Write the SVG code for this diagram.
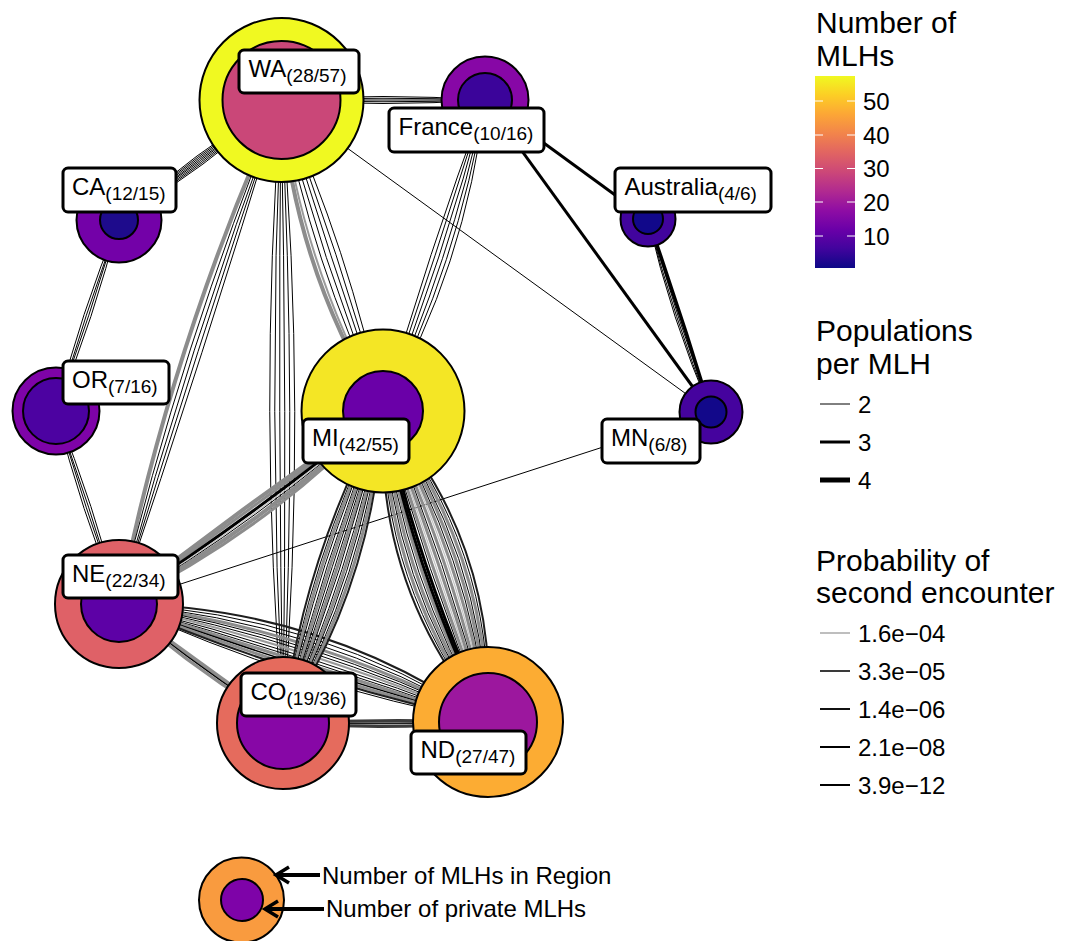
<svg xmlns="http://www.w3.org/2000/svg" width="1076" height="941" viewBox="0 0 1076 941">
<defs>
<linearGradient id="plasma" x1="0" y1="1" x2="0" y2="0">
<stop offset="0" stop-color="#0D0887"/><stop offset="0.1" stop-color="#41049D"/><stop offset="0.2" stop-color="#6A00A8"/><stop offset="0.3" stop-color="#8F0DA4"/><stop offset="0.4" stop-color="#B12A90"/><stop offset="0.5" stop-color="#CC4778"/><stop offset="0.6" stop-color="#E16462"/><stop offset="0.7" stop-color="#F2844B"/><stop offset="0.8" stop-color="#FCA636"/><stop offset="0.9" stop-color="#FCCE25"/><stop offset="1" stop-color="#F0F921"/>
</linearGradient>
<marker id="chev" markerWidth="18" markerHeight="22" refX="14" refY="10" orient="auto" markerUnits="userSpaceOnUse"><path d="M1,2 L14,10 L1,18" fill="none" stroke="#000" stroke-width="3.5"/></marker>
</defs>
<style>
text{font-family:"Liberation Sans",Arial,Helvetica,sans-serif;fill:#000}
.t{font-size:24px}
.sub{font-size:19px}
.ttl{font-size:30px}
.lab rect{fill:#fff;stroke:#000;stroke-width:3}
.o,.i{stroke:#000;stroke-width:2}
#edges path{fill:none}
.b1{stroke:#000;stroke-width:1}
.b15{stroke:#000;stroke-width:1.5}
.b2{stroke:#1e1e1e;stroke-width:2}
.b3{stroke:#000;stroke-width:3}
.g4{stroke:#8c8c8c;stroke-width:4}
.g3{stroke:#8c8c8c;stroke-width:3}
.g2{stroke:#9a9a9a;stroke-width:2}
.l1{stroke:#c4c4c4;stroke-width:1.2}
.d3{stroke:#3c3c3c;stroke-width:3}
.tick{stroke:#fff;stroke-width:1}
</style>
<rect width="1076" height="941" fill="#fff"/>
<g id="edges">
<!-- WA-France -->
<path class="b1" d="M281,100Q383,93 485,100"/><path class="b1" d="M281,100Q383,96.5 485,100"/><path class="b1" d="M281,100Q383,100 485,100"/><path class="b1" d="M281,100Q383,103.5 485,100"/><path class="b1" d="M281,100Q383,107 485,100"/>
<!-- WA-CA -->
<path class="b1" d="M281,100Q206,168 119,220"/><path class="b1" d="M281,100Q204.3,165.7 119,220"/><path class="b1" d="M281,100Q202.6,163.4 119,220"/><path class="b1" d="M281,100Q200.9,161.1 119,220"/><path class="b1" d="M281,100Q199.2,158.9 119,220"/><path class="b1" d="M281,100Q197.5,156.6 119,220"/><path class="b1" d="M281,100Q195.8,154.3 119,220"/><path class="b1" d="M281,100Q194,152 119,220"/>
<!-- WA-MN -->
<path class="b1" d="M281,100L711,412"/>
<!-- WA-NE -->
<path class="g4" d="M281,100Q171.4,342.8 119,604"/><path class="b1" d="M281,100Q181,345.9 119,604"/><path class="b1" d="M281,100Q188.6,348.3 119,604"/><path class="b1" d="M281,100Q196.2,350.8 119,604"/><path class="b1" d="M281,100Q203.8,353.2 119,604"/>
<!-- WA-CO -->
<path class="b1" d="M281,100Q307.5,411.5 283,723"/><path class="b1" d="M281,100Q297.5,411.5 283,723"/><path class="b1" d="M281,100Q287.5,411.5 283,723"/><path class="b1" d="M281,100Q277.5,411.5 283,723"/><path class="b1" d="M281,100Q267.5,411.5 283,723"/><path class="b1" d="M281,100Q257.5,411.5 283,723"/>
<!-- WA-MI -->
<path class="g4" d="M281,100Q294,268 383,411"/><path class="g2" d="M281,100Q301.6,265.5 383,411"/><path class="b1" d="M281,100Q311.1,262.4 383,411"/><path class="b1" d="M281,100Q320.6,259.2 383,411"/><path class="b1" d="M281,100Q330.1,256.1 383,411"/><path class="b1" d="M281,100Q339.6,253 383,411"/><path class="b1" d="M281,100Q349.1,249.9 383,411"/>
<!-- France-MI -->
<path class="b1" d="M485,100Q428.3,253.6 383,411"/><path class="b1" d="M485,100Q435.9,256.1 383,411"/><path class="b1" d="M485,100Q443.5,258.6 383,411"/><path class="b1" d="M485,100Q451.1,261.1 383,411"/><path class="b1" d="M485,100Q458.7,263.6 383,411"/><path class="b1" d="M485,100Q466.3,266.1 383,411"/>
<!-- France-Australia, France-MN -->
<path class="b3" d="M485,100L648,219"/>
<path class="b3" d="M485,100L711,412"/>
<!-- Australia-MN -->
<path class="b3" style="stroke-width:3.5" d="M648,219Q681.4,314.9 711,412"/><path class="b1" d="M648,219Q676.7,316.4 711,412"/><path class="b1" d="M648,219Q673.8,317.4 711,412"/><path class="b1" d="M648,219Q670.9,318.3 711,412"/>
<!-- CA-OR -->
<path class="b1" d="M119,220Q94.2,317.7 56,411"/><path class="b1" d="M119,220Q89.7,316.2 56,411"/><path class="b1" d="M119,220Q85.3,314.8 56,411"/><path class="b1" d="M119,220Q80.8,313.3 56,411"/>
<!-- OR-NE -->
<path class="b1" d="M56,411Q94.2,505.3 119,604"/><path class="b1" d="M56,411Q89.7,506.8 119,604"/><path class="b1" d="M56,411Q85.3,508.2 119,604"/><path class="b1" d="M56,411Q80.8,509.7 119,604"/>
<!-- NE-MN -->
<path class="b1" d="M119,604L711,412"/>
<!-- NE-MI -->
<path class="g4" d="M119,604Q247.5,502.7 383,411"/><path class="g3" d="M119,604Q251.6,508.3 383,411"/><path class="b3" d="M119,604Q255.7,514 383,411"/><path class="l1" d="M119,604Q258.7,518 383,411"/><path class="b1" d="M119,604Q260.4,520.4 383,411"/><path class="g4" d="M119,604Q264,525.3 383,411"/><path class="g3" d="M119,604Q268.1,530.9 383,411"/>
<!-- NE-CO -->
<path class="g4" d="M119,604Q201.5,663.5 283,723"/><path class="b15" d="M119,604Q198.6,667.6 283,723"/><path class="g3" d="M119,604Q195.7,671.6 283,723"/>
<!-- NE-ND -->
<path class="b2" d="M119,604Q322.7,605.8 488,722"/><path class="b1" d="M119,604Q320.3,613.4 488,722"/><path class="b1" d="M119,604Q317.8,621.1 488,722"/><path class="g3" d="M119,604Q315.4,628.7 488,722"/><path class="b1" d="M119,604Q313.6,634.4 488,722"/><path class="b1" d="M119,604Q311.8,640.1 488,722"/><path class="g2" d="M119,604Q310,645.9 488,722"/><path class="b1" d="M119,604Q308.1,651.6 488,722"/><path class="b1" d="M119,604Q306.3,657.3 488,722"/><path class="g3" d="M119,604Q304.5,663 488,722"/><path class="b15" d="M119,604Q302.7,668.7 488,722"/><path class="g3" d="M119,604Q300.9,674.4 488,722"/><path class="b2" d="M119,604Q299,680.2 488,722"/><path class="b1" d="M119,604Q297.2,685.9 488,722"/>
<!-- CO-ND -->
<path class="d3" d="M283,723Q385.5,718.5 488,722"/><path class="b2" d="M283,723Q385.5,724.5 488,722"/><path class="d3" d="M283,723Q385.5,730.5 488,722"/>
<!-- MI-CO -->
<path class="b2" d="M383,411Q303,557.3 283,723"/><path class="b1" d="M383,411Q307.8,558.9 283,723"/><path class="g3" d="M383,411Q312.5,560.4 283,723"/><path class="b1" d="M383,411Q317.3,561.9 283,723"/><path class="b1" d="M383,411Q322.1,563.4 283,723"/><path class="g3" d="M383,411Q326.8,564.9 283,723"/><path class="b1" d="M383,411Q331.6,566.4 283,723"/><path class="b1" d="M383,411Q336.4,567.9 283,723"/><path class="g3" d="M383,411Q341.1,569.4 283,723"/><path class="b1" d="M383,411Q345.9,570.9 283,723"/><path class="b1" d="M383,411Q350.7,572.4 283,723"/><path class="g3" d="M383,411Q355.4,574 283,723"/><path class="b1" d="M383,411Q360.2,575.5 283,723"/><path class="b1" d="M383,411Q365,577 283,723"/><path class="g3" d="M383,411Q369.7,578.5 283,723"/><path class="b2" d="M383,411Q375.4,580.3 283,723"/>
<!-- MI-ND -->
<path class="b2" d="M383,411Q374.1,588 488,722"/><path class="b1" d="M383,411Q379.7,586 488,722"/><path class="g3" d="M383,411Q385.4,584.1 488,722"/><path class="b1" d="M383,411Q391.1,582.1 488,722"/><path class="g3" d="M383,411Q396.8,580.2 488,722"/><path class="b1" d="M383,411Q402.4,578.2 488,722"/><path class="g3" d="M383,411Q408.1,576.3 488,722"/><path class="b3" d="M383,411Q413.8,574.3 488,722"/><path class="b3" d="M383,411Q419.5,572.4 488,722"/><path class="b1" d="M383,411Q425.2,570.4 488,722"/><path class="g3" d="M383,411Q430.8,568.5 488,722"/><path class="l1" d="M383,411Q436.5,566.5 488,722"/><path class="g3" d="M383,411Q442.2,564.6 488,722"/><path class="b1" d="M383,411Q447.9,562.6 488,722"/><path class="g3" d="M383,411Q453.5,560.7 488,722"/><path class="l1" d="M383,411Q459.2,558.7 488,722"/><path class="g3" d="M383,411Q464.9,556.8 488,722"/><path class="b1" d="M383,411Q470.6,554.8 488,722"/><path class="g3" d="M383,411Q476.2,552.9 488,722"/><path class="b1" d="M383,411Q481.9,550.9 488,722"/><path class="g3" d="M383,411Q487.6,549 488,722"/><path class="b1" d="M383,411Q493.3,547 488,722"/><path class="b2" d="M383,411Q498.9,545.1 488,722"/>
</g>
<g id="node-WA"><circle class="o" cx="281.5" cy="100" r="82" fill="#F0F921"/><circle class="i" cx="281.5" cy="100" r="59" fill="#CA4778"/><g class="lab"><rect x="239" y="50" width="120" height="43" rx="5"/><text class="t" x="248.5" y="77">WA<tspan class="sub" dy="5">(28/57)</tspan></text></g></g>
<g id="node-France"><circle class="o" cx="485" cy="100" r="43.5" fill="#8707A6"/><circle class="i" cx="485" cy="100" r="27" fill="#3B049A"/><g class="lab"><rect x="389" y="108" width="155" height="44" rx="5"/><text class="t" x="398.5" y="135">France<tspan class="sub" dy="5">(10/16)</tspan></text></g></g>
<g id="node-Australia"><circle class="o" cx="648" cy="219" r="27.5" fill="#41049D"/><circle class="i" cx="648" cy="219" r="15" fill="#11088A"/><g class="lab"><rect x="615" y="168" width="156" height="44" rx="5"/><text class="t" x="624.5" y="195">Australia<tspan class="sub" dy="5">(4/6)</tspan></text></g></g>
<g id="node-CA"><circle class="o" cx="119" cy="220" r="42.5" fill="#7301A8"/><circle class="i" cx="119" cy="220" r="19" fill="#1E0B8C"/><g class="lab"><rect x="63" y="168" width="113" height="44" rx="5"/><text class="t" x="72" y="195">CA<tspan class="sub" dy="5">(12/15)</tspan></text></g></g>
<g id="node-OR"><circle class="o" cx="56" cy="411" r="43.5" fill="#7E03A8"/><circle class="i" cx="56" cy="411" r="33" fill="#4C02A1"/><g class="lab"><rect x="63" y="361" width="106" height="43" rx="5"/><text class="t" x="72" y="388">OR<tspan class="sub" dy="5">(7/16)</tspan></text></g></g>
<g id="node-MI"><circle class="o" cx="383" cy="411" r="81.5" fill="#F4E625"/><circle class="i" cx="383" cy="411" r="40" fill="#6A00A8"/><g class="lab"><rect x="303" y="419" width="106" height="44" rx="5"/><text class="t" x="312" y="446">MI<tspan class="sub" dy="5">(42/55)</tspan></text></g></g>
<g id="node-MN"><circle class="o" cx="711" cy="412" r="31.5" fill="#45039E"/><circle class="i" cx="711" cy="412" r="15.5" fill="#12088A"/><g class="lab"><rect x="602" y="419" width="98" height="44" rx="5"/><text class="t" x="611" y="446">MN<tspan class="sub" dy="5">(6/8)</tspan></text></g></g>
<g id="node-NE"><circle class="o" cx="119" cy="604" r="64" fill="#DF6167"/><circle class="i" cx="119" cy="604" r="38" fill="#5D01A6"/><g class="lab"><rect x="63" y="555" width="115" height="43" rx="5"/><text class="t" x="72" y="582">NE<tspan class="sub" dy="5">(22/34)</tspan></text></g></g>
<g id="node-CO"><circle class="o" cx="283" cy="723" r="66" fill="#E56B5D"/><circle class="i" cx="283" cy="723" r="46" fill="#8707A6"/><g class="lab"><rect x="241" y="673" width="115" height="43" rx="5"/><text class="t" x="250.5" y="700">CO<tspan class="sub" dy="5">(19/36)</tspan></text></g></g>
<g id="node-ND"><circle class="o" cx="488" cy="722" r="75" fill="#FCAC33"/><circle class="i" cx="488" cy="722" r="49" fill="#9C179E"/><g class="lab"><rect x="411" y="731" width="115" height="43" rx="5"/><text class="t" x="420.5" y="758">ND<tspan class="sub" dy="5">(27/47)</tspan></text></g></g>
<g id="legend-colour">
<text class="ttl" x="816" y="33">Number of</text><text class="ttl" x="816" y="66">MLHs</text>
<rect x="815" y="76" width="40" height="192" fill="url(#plasma)"/>
<path class="tick" d="M815,101h8M847,101h8M815,135h8M847,135h8M815,168.5h8M847,168.5h8M815,202h8M847,202h8M815,236h8M847,236h8"/>
<text class="t" x="863" y="110">50</text><text class="t" x="863" y="144">40</text><text class="t" x="863" y="177">30</text><text class="t" x="863" y="211">20</text><text class="t" x="863" y="245">10</text>
</g>
<g id="legend-width">
<text class="ttl" x="816" y="341">Populations</text><text class="ttl" x="816" y="374">per MLH</text>
<path d="M820,404h30" stroke="#000" stroke-width="1"/><path d="M820,442h30" stroke="#000" stroke-width="3"/><path d="M820,480h30" stroke="#000" stroke-width="5"/>
<text class="t" x="858" y="412.5">2</text><text class="t" x="858" y="450.5">3</text><text class="t" x="858" y="488.5">4</text>
</g>
<g id="legend-prob">
<text class="ttl" x="816" y="571">Probability of</text><text class="ttl" x="816" y="603">second encounter</text>
<path d="M820,633h30" stroke="#bebebe" stroke-width="2"/><path d="M820,671h30" stroke="#3a3a3a" stroke-width="2"/><path d="M820,709h30" stroke="#111" stroke-width="2"/><path d="M820,747h30" stroke="#000" stroke-width="2"/><path d="M820,785h30" stroke="#000" stroke-width="2"/>
<text class="t" x="858" y="641.5">1.6e&#8722;04</text><text class="t" x="858" y="679.5">3.3e&#8722;05</text><text class="t" x="858" y="717.5">1.4e&#8722;06</text><text class="t" x="858" y="755.5">2.1e&#8722;08</text><text class="t" x="858" y="793.5">3.9e&#8722;12</text>
</g>
<g id="legend-key">
<circle class="o" cx="241.5" cy="900" r="42.5" fill="#F99B3F"/><circle class="i" cx="242" cy="900" r="21" fill="#7E03A8"/>
<path d="M320,875H276" stroke="#000" stroke-width="4" marker-end="url(#chev)"/>
<path d="M324,909H265" stroke="#000" stroke-width="4" marker-end="url(#chev)"/>
<text class="t" x="322" y="884">Number of MLHs in Region</text>
<text class="t" x="326" y="917">Number of private MLHs</text>
</g>
</svg>
